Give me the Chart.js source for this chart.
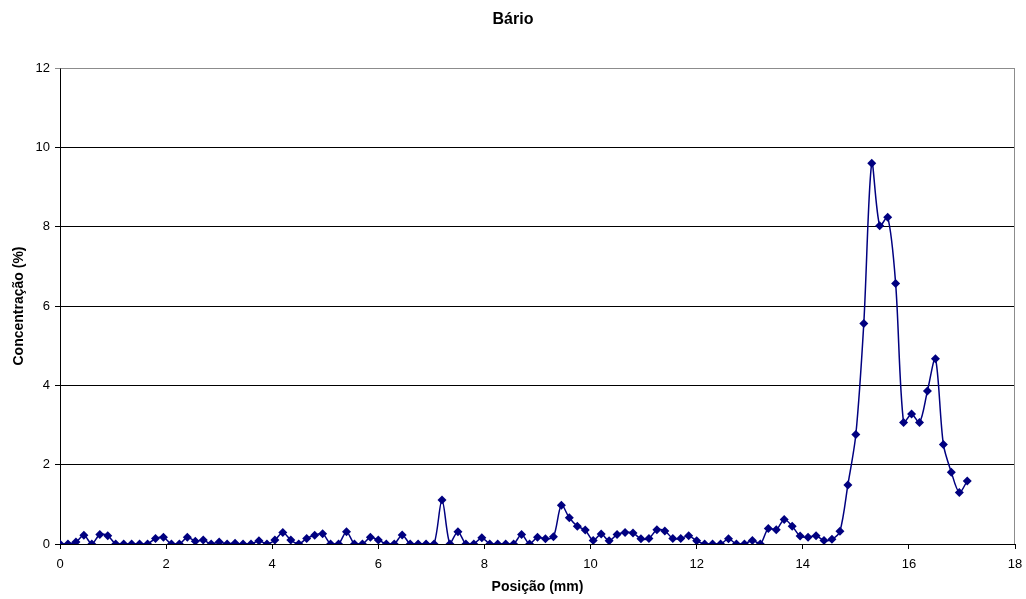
<!DOCTYPE html>
<html>
<head>
<meta charset="utf-8">
<script src="https://cdn.jsdelivr.net/npm/chart.js@4/dist/chart.umd.min.js"></script>
<style>
html,body{margin:0;padding:0;background:#fff;}
canvas{display:block;}
</style>
</head>
<body>
<canvas id="c" width="1026" height="599"></canvas>
<script>
const chartTitle = "Bário";
const xTitle = "Posição (mm)";
const yTitle = "Concentração (%)";

const positions = [0,0.15,0.3,0.45,0.6,0.75,0.9,1.05,1.2,1.35,1.5,1.65,1.8,1.95,2.1,2.25,2.4,2.55,2.7,2.85,
  3,3.15,3.3,3.45,3.6,3.75,3.9,4.05,4.2,4.35,4.5,4.65,4.8,4.95,5.1,5.25,5.4,5.55,5.7,5.85,
  6,6.15,6.3,6.45,6.6,6.75,6.9,7.05,7.2,7.35,7.5,7.65,7.8,7.95,8.1,8.25,8.4,8.55,8.7,8.85,
  9,9.15,9.3,9.45,9.6,9.75,9.9,10.05,10.2,10.35,10.5,10.65,10.8,10.95,11.1,11.25,11.4,11.55,11.7,11.85,
  12,12.15,12.3,12.45,12.6,12.75,12.9,13.05,13.2,13.35,13.5,13.65,13.8,13.95,14.1,14.25,14.4,14.55,14.7,14.85,
  15,15.15,15.3,15.45,15.6,15.75,15.9,16.05,16.2,16.35,16.5,16.65,16.8,16.95,17.1];

const concentration = [0,0,0.05,0.22,0,0.24,0.21,0,0,0,0,0,0.14,0.17,0,0,0.17,0.07,0.1,0,
  0.05,0,0.02,0,0,0.08,0,0.1,0.29,0.1,0,0.14,0.22,0.26,0,0,0.31,0,0,0.17,
  0.1,0,0,0.23,0,0,0,0,1.11,0,0.31,0,0,0.16,0,0,0,0,0.24,0,
  0.17,0.13,0.18,0.98,0.66,0.45,0.35,0.09,0.25,0.08,0.24,0.29,0.28,0.13,0.14,0.36,0.33,0.14,0.14,0.21,
  0.08,0,0,0,0.13,0,0,0.09,0,0.39,0.36,0.62,0.45,0.2,0.17,0.21,0.09,0.12,0.32,1.49,
  2.76,5.56,9.6,8.02,8.24,6.57,3.06,3.28,3.06,3.86,4.67,2.51,1.81,1.3,1.59];

const xTicks = [0,2,4,6,8,10,12,14,16,18];
const yTicks = [0,2,4,6,8,10,12];

const points = positions.map((x, i) => ({x: x, y: concentration[i]}));
const FONT = "'Liberation Sans', Arial, sans-serif";

const plotFrame = {
  id: 'plotFrame',
  beforeDatasetsDraw(chart) {
    const {ctx, chartArea: a} = chart;
    ctx.save();
    ctx.strokeStyle = '#8c8c8c';
    ctx.lineWidth = 1;
    ctx.beginPath();
    ctx.moveTo(Math.round(a.left) + 0.5, Math.round(a.top) + 0.5);
    ctx.lineTo(Math.round(a.right) - 0.5, Math.round(a.top) + 0.5);
    ctx.lineTo(Math.round(a.right) - 0.5, Math.round(a.bottom));
    ctx.stroke();
    ctx.restore();
  }
};

new Chart(document.getElementById('c'), {
  type: 'line',
  data: {
    datasets: [{
      data: points,
      borderColor: '#000080',
      backgroundColor: '#000080',
      borderWidth: 1.5,
      pointStyle: 'rectRot',
      pointRadius: 4.5,
      pointBorderWidth: 0,
      pointBackgroundColor: '#000080',
      tension: 0.3,
      fill: false
    }]
  },
  plugins: [plotFrame],
  options: {
    responsive: false,
    animation: false,
    layout: {padding: {left: 0, right: 0, top: 0, bottom: 0}},
    plugins: {
      legend: {display: false},
      tooltip: {enabled: false},
      title: {
        display: true,
        text: chartTitle,
        color: '#000',
        font: {family: FONT, size: 16, weight: 'bold'},
        padding: {top: 10, bottom: 38.8}
      }
    },
    scales: {
      x: {
        type: 'linear',
        min: 0, max: 18,
        afterBuildTicks: (s) => { s.ticks = xTicks.map(v => ({value: v})); },
        afterFit: (s) => { s.height = 55; s.paddingRight = 11; s.paddingLeft = 0; },
        ticks: {color: '#000', font: {family: FONT, size: 13}, padding: 8, maxRotation: 0},
        grid: {drawOnChartArea: false, drawTicks: true, tickLength: 5, color: '#000'},
        border: {color: '#000', width: 1},
        title: {display: true, text: xTitle, color: '#000', font: {family: FONT, size: 14, weight: 'bold'}, padding: {top: 0, bottom: 3}}
      },
      y: {
        type: 'linear',
        min: 0, max: 12,
        afterBuildTicks: (s) => { s.ticks = yTicks.map(v => ({value: v})); },
        afterFit: (s) => { s.width = 60; },
        ticks: {color: '#000', font: {family: FONT, size: 13}, padding: 5},
        grid: {
          color: (c) => (c.tick && c.tick.value === 12) ? '#8c8c8c' : '#000',
          lineWidth: 1, tickLength: 5, drawTicks: true
        },
        border: {color: '#000', width: 1},
        title: {display: true, text: yTitle, color: '#000', font: {family: FONT, size: 14, weight: 'bold'}, padding: {top: 11, bottom: 0}}
      }
    }
  }
});
</script>
</body>
</html>
